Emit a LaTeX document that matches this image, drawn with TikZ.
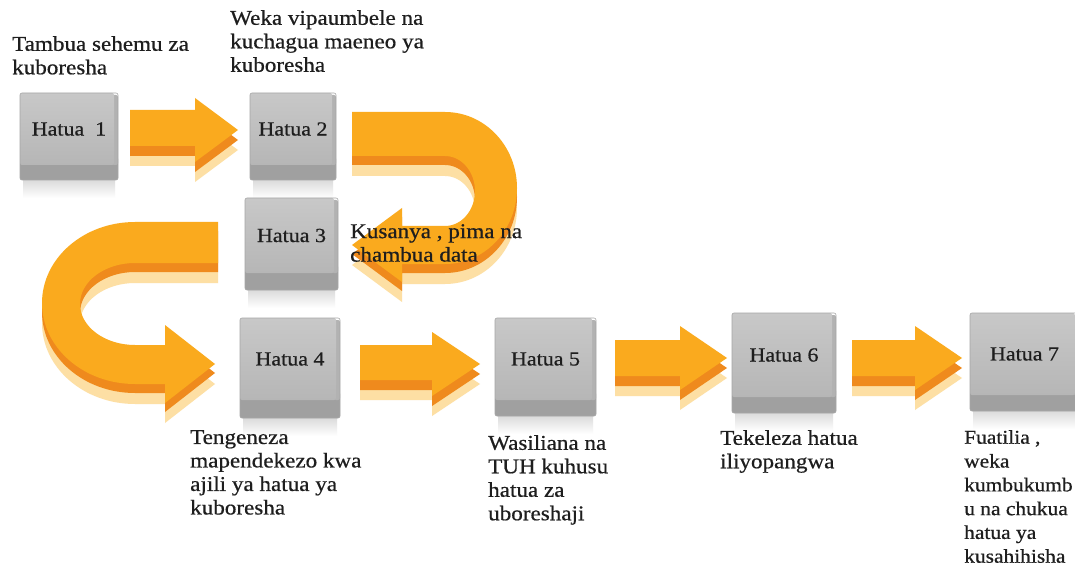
\documentclass[tikz,border=0pt]{standalone}
\usepackage{fontspec}
\setmainfont[FakeStretch=1.1, FakeBold=0.6]{Liberation Serif}
\definecolor{orangemain}{HTML}{FAAA1E}
\definecolor{orangedark}{HTML}{EF8A1D}
\definecolor{orangepale}{HTML}{FDDFA4}
\definecolor{facetop}{HTML}{C8C8C8}
\definecolor{facebot}{HTML}{B6B6B6}
\definecolor{bandcol}{HTML}{A0A0A0}
\definecolor{inkcol}{HTML}{1E1E1E}
\tikzset{
  caption/.style={anchor=north west, inner sep=0pt, align=left, text=inkcol,
    font=\fontsize{21}{23.5}\selectfont},
  steplabel/.style={inner sep=0pt, text=inkcol, font=\fontsize{20}{24}\selectfont},
}
% a grey step block: name, left, top, right, face bottom, band bottom, label
\newcommand\hatuabox[7]{%
  \shade[top color=black!14, bottom color=white] (#2+3,#6) rectangle (#4-3,#6+18);
  \fill[bandcol, rounded corners=2pt] (#2,#5-8) rectangle (#4,#6);
  \fill[black!30, rounded corners=2pt] (#4-6,#3+2) rectangle (#4,#5);
  \shade[top color=facetop, bottom color=facebot, rounded corners=2pt] (#2,#3) rectangle (#4-4,#5);
  \draw[black!35, line width=0.6pt, rounded corners=2pt] (#2,#3) rectangle (#4,#6);
  \node[steplabel] (#1) at ({(#2+#4)/2},{(#3+#5)/2}) {#7};
}
% a straight block arrow: shaft left, head base, tip x, shaft top, shaft bottom, head top, head bottom
\newcommand\blockarrow[7]{%
  \foreach \dy/\col in {20/orangepale, 10/orangedark, 0/orangemain}{
    \fill[\col, shift={(0,\dy)}] (#1,#4) -- (#2,#4) -- (#2,#6) -- (#3,{(#6+#7)/2})
      -- (#2,#7) -- (#2,#5) -- (#1,#5) -- cycle;
  }%
}
\begin{document}
\begin{tikzpicture}[x=1pt, y=-1pt]
\useasboundingbox[fill=white] (0,0) rectangle (1075,569);

% straight arrows between the steps
\blockarrow{130}{195}{238}{110}{146}{98}{162}
\blockarrow{360}{432}{480}{345}{380}{332}{396}
\blockarrow{615}{680}{727}{340}{376}{326}{390}
\blockarrow{852}{915}{962}{340}{376}{326}{390}

% turning arrow from step 2 down to step 3
\foreach \dy/\col in {20/orangepale, 9/orangedark, 0/orangemain}{
  \fill[\col, shift={(0,\dy)}] (352,112) -- (445,112)
    arc[start angle=-90, end angle=90, x radius=72, y radius=76]
    -- (402,264) -- (402,282) -- (352,245) -- (402,208) -- (402,226) -- (445,226)
    arc[start angle=90, end angle=-90, x radius=30, y radius=35]
    -- (352,156) -- cycle;
}

% turning arrow from step 3 down to step 4
\foreach \dy/\col in {20/orangepale, 9/orangedark, 0/orangemain}{
  \fill[\col, shift={(0,\dy)}] (218,222) -- (135,222)
    arc[start angle=-90, end angle=-270, x radius=93, y radius=81]
    -- (165,384) -- (165,403) -- (215,364) -- (165,325) -- (165,345) -- (135,345)
    arc[start angle=90, end angle=270, x radius=55, y radius=41]
    -- (218,263) -- cycle;
}

% step blocks
\hatuabox{h1}{20}{93}{118}{165}{180}{Hatua\ \ 1}
\hatuabox{h2}{250}{93}{336}{165}{180}{Hatua 2}
\hatuabox{h3}{245}{198}{338}{273}{290}{Hatua 3}
\hatuabox{h4}{240}{318}{340}{400}{418}{Hatua 4}
\hatuabox{h5}{495}{318}{596}{400}{416}{Hatua 5}
\hatuabox{h6}{732}{313}{836}{397}{413}{Hatua 6}
\hatuabox{h7}{970}{313}{1079}{395}{411}{Hatua 7}

% step descriptions
\node[caption] (t1) at (12,36) {Tambua sehemu za\\kuboresha};
\node[caption] (t2) at (230,10) {Weka vipaumbele na\\kuchagua maeneo ya\\kuboresha};
\node[caption] (t3) at (350,224) {Kusanya , pima na\\chambua data};
\node[caption] (t4) at (190,430) {Tengeneza\\mapendekezo kwa\\ajili ya hatua ya\\kuboresha};
\node[caption] (t5) at (488,435) {Wasiliana na\\TUH kuhusu\\hatua za\\uboreshaji};
\node[caption] (t6) at (720,430) {Tekeleza hatua\\iliyopangwa};
\node[caption, font=\fontsize{19.5}{23.8}\selectfont] (t7) at (964,430)
  {Fuatilia ,\\weka\\kumbukumb\\u na chukua\\hatua ya\\kusahihisha};
\end{tikzpicture}
\end{document}
